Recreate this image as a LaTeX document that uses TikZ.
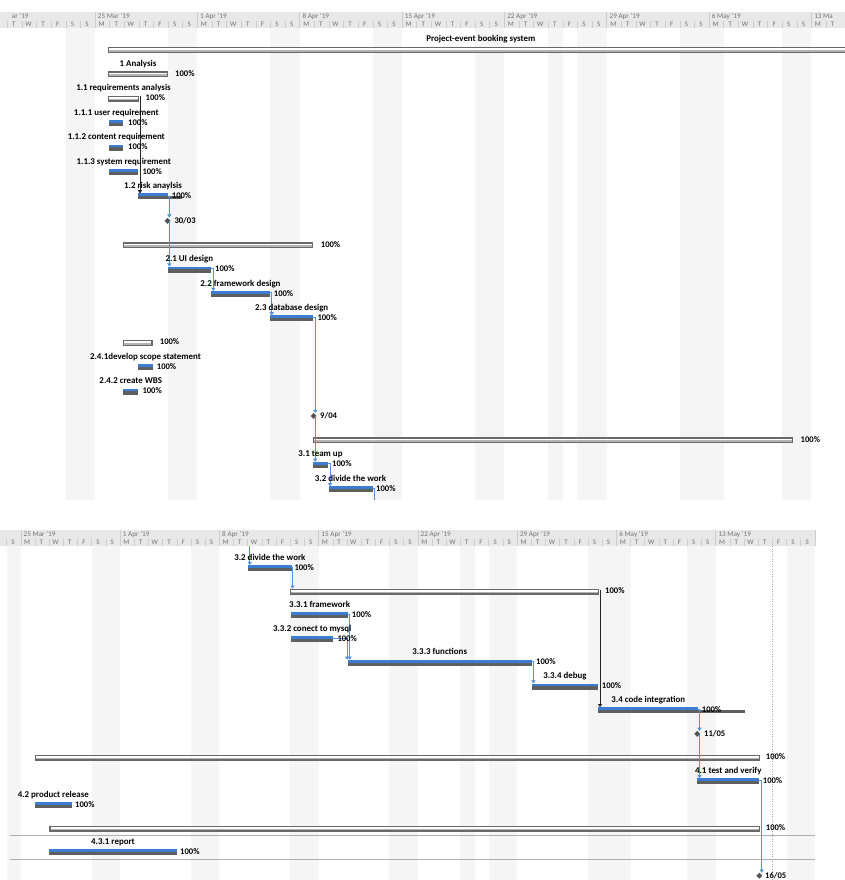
\documentclass[tikz,border=0pt]{standalone}
\usepackage{fontspec}
\setmainfont{Carlito}
\usetikzlibrary{arrows.meta}
\definecolor{hdrbg}{RGB}{232,232,232}
\definecolor{hdrtxt}{RGB}{115,115,115}
\definecolor{hdrsep}{RGB}{205,205,205}
\definecolor{wkend}{RGB}{245,245,245}
\definecolor{barblue}{RGB}{60,125,210}
\definecolor{bargray}{RGB}{95,95,95}
\definecolor{sumdark}{RGB}{105,105,105}
\definecolor{sumlight}{RGB}{180,180,180}
\definecolor{linkblue}{RGB}{85,145,220}
\definecolor{msgray}{RGB}{85,85,85}
\definecolor{rowline}{RGB}{175,175,175}
\newcommand{\taskbar}[3]{%
  \fill[barblue] ({#1},{#3}) rectangle ({#2},{#3+2.8});
  \fill[bargray] ({#1},{#3+2.8}) rectangle ({#2},{#3+6});}
\newcommand{\taskbarx}[4]{%
  \fill[barblue] ({#1},{#4}) rectangle ({#2},{#4+2.8});
  \fill[bargray] ({#1},{#4+2.8}) rectangle ({#3},{#4+6});}
\newcommand{\sumbar}[3]{%
  \fill[sumdark] ({#1},{#3}) rectangle ({#2},{#3+6});
  \fill[sumlight] ({#1+1.3},{#3+1.3}) rectangle ({#2-1.3},{#3+4.7});
  \fill[white] ({#1+1.3},{#3+1.3}) rectangle ({#2-1.3},{#3+2.9});}
\newcommand{\gmile}[3]{%
  \fill[msgray] ({#2-3},{#3}) -- ({#2},{#3-3}) -- ({#2+3},{#3}) -- ({#2},{#3+3}) -- cycle;
  \coordinate (#1) at ({#2},{#3});}
\tikzset{
 lbl/.style={font=\fontsize{8.9}{10}\selectfont\bfseries, inner sep=0pt, anchor=base, text=black},
 pct/.style={font=\fontsize{8.6}{10}\selectfont\bfseries, inner sep=0pt, anchor=base west, text=black},
 wklbl/.style={font=\fontsize{7.2}{8}\selectfont, inner sep=0pt, anchor=base west, text=hdrtxt},
 daylbl/.style={font=\fontsize{7}{8}\selectfont, inner sep=0pt, anchor=base, text=hdrtxt},
 lnk/.style={draw=linkblue, line width=0.8pt, -{Triangle[width=4.2pt,length=3.2pt]}},
 lnkplain/.style={draw=linkblue, line width=0.8pt},
 blk/.style={draw=black!85, line width=0.8pt, -{Triangle[width=4.2pt,length=3.2pt]}},
 sep/.style={draw=hdrsep, line width=0.5pt},
}
\begin{document}
\begin{tikzpicture}[x=1pt,y=-1pt]
\useasboundingbox (0,0) rectangle (845,880);
\clip (0,0) rectangle (845,880);
\fill[white] (0,0) rectangle (845,880);
% ===================== TOP CHART =====================
\foreach \d in {-2,-1,5,6,12,13,19,20,26,27,31,33,34,40,41,42,47,48}
  \fill[wkend] ({95+14.62*\d},28.3) rectangle ({95+14.62*(\d+1)},500);
\fill[hdrbg] (0,11.7) rectangle (845,28.3);
\foreach \d in {-6,...,50} {
  \pgfmathsetmacro\dxa{95+14.62*\d}
  \pgfmathtruncatemacro\dwk{mod(\d+70,7)}
  \draw[sep] (\dxa,21) -- (\dxa,28.3);
  \node[daylbl] (td\d) at (\dxa+6.6,26.6) {\ifcase\dwk M\or T\or W\or T\or F\or S\or S\fi};
}
\node[wklbl] (tw0) at (11.7,18.3) {ar '19};
\foreach \w/\t in {0/25 Mar '19,1/1 Apr '19,2/8 Apr '19,3/15 Apr '19,4/22 Apr '19,5/29 Apr '19,6/6 May '19,7/13 Ma} {
  \pgfmathsetmacro\dxa{95+102.34*\w}
  \draw[sep] (\dxa,11.7) -- (\dxa,28.3);
  \node[wklbl] (tw\w x) at (\dxa+2.7,18.3) {\t};
}
% bars
\sumbar{108}{860}{47}
\sumbar{108}{168}{71.4}
\sumbar{108}{139}{95.8}
\taskbar{109.3}{123.3}{120.2}
\taskbar{109.3}{123.3}{144.6}
\taskbar{109.3}{138.3}{169}
\taskbarx{138.3}{168}{181.7}{193.4}
\sumbar{122.7}{313.3}{242.2}
\taskbar{167.7}{211}{266.6}
\taskbar{211}{270}{291}
\taskbar{270}{313.3}{315.4}
\sumbar{122.7}{152.7}{339.8}
\taskbar{138.3}{152.7}{364.2}
\taskbar{123.3}{138.3}{388.6}
\sumbar{313}{793.3}{437.4}
\taskbar{313.4}{327.7}{461.8}
\taskbar{328.5}{372.6}{486.2}
\gmile{m1}{167.5}{220.8}
\gmile{m2}{313.7}{416}
% links top
\coordinate (a11) at (140,96.5);
\coordinate (a12) at (140,193.4);
\draw[blk] (a11) -- (a12);
\coordinate (a12e) at (168,196.2);
\coordinate (m1t) at (169.3,217.6);
\draw[lnk] (a12e) -- (a12e -| m1t) -- (m1t);
\coordinate (m1c) at (169.3,220.8);
\coordinate (a21s) at (169.3,266.6);
\draw[lnk] (m1c) -- (a21s);
\coordinate (a21e) at (211,268.4);
\coordinate (a22s) at (213.3,291);
\draw[lnk] (a21e) -- (a21e -| a22s) -- (a22s);
\coordinate (a22e) at (270,292.8);
\coordinate (a23s) at (271.7,315.4);
\draw[lnk] (a22e) -- (a22e -| a23s) -- (a23s);
\coordinate (a23e) at (313.3,317.2);
\coordinate (m2t) at (315.2,413);
\draw[lnk] (a23e) -- (a23e -| m2t) -- (m2t);
\coordinate (m2c) at (315.2,416);
\coordinate (a31s) at (315.2,461.8);
\draw[lnk] (m2c) -- (a31s);
\coordinate (a31e) at (327.7,463.6);
\coordinate (a32s) at (330,486.2);
\draw[lnk] (a31e) -- (a31e -| a32s) -- (a32s);
\coordinate (a32e) at (372.6,488);
\coordinate (a32x) at (374,500);
\draw[lnkplain] (a32e) -- (a32e -| a32x) -- (a32x);
% labels top
\node[lbl] (tP) at (480.8,42) {Project-event booking system};
\node[lbl] (t1) at (138,66.4) {1 Analysis};
\node[pct] (p1) at (175,76.4) {100\%};
\node[lbl] (t11) at (123.5,90.8) {1.1 requirements analysis};
\node[pct] (p11) at (145.5,100.8) {100\%};
\node[lbl] (t111) at (116.3,115.2) {1.1.1 user requirement};
\node[pct] (p111) at (128,125.2) {100\%};
\node[lbl] (t112) at (116.3,139.6) {1.1.2 content requirement};
\node[pct] (p112) at (128,149.6) {100\%};
\node[lbl] (t113) at (123.8,164) {1.1.3 system requirement};
\node[pct] (p113) at (142.3,174) {100\%};
\node[lbl] (t12) at (153,188.4) {1.2 risk anaylsis};
\node[pct] (p12) at (171.7,198.4) {100\%};
\node[pct] (pm1) at (174.3,223.5) {30/03};
\node[pct] (p2) at (320.7,247.2) {100\%};
\node[lbl] (t21) at (189.3,261.6) {2.1 UI design};
\node[pct] (p21) at (215,271.6) {100\%};
\node[lbl] (t22) at (240.5,286) {2.2 framework design};
\node[pct] (p22) at (273.7,296) {100\%};
\node[lbl] (t23) at (291.7,310.4) {2.3 database design};
\node[pct] (p23) at (317.3,320.4) {100\%};
\node[pct] (p24) at (159.7,344.8) {100\%};
\node[lbl] (t241) at (145.5,359.2) {2.4.1develop scope statement};
\node[pct] (p241) at (156.7,369.2) {100\%};
\node[lbl] (t242) at (130.8,383.6) {2.4.2 create WBS};
\node[pct] (p242) at (142.3,393.6) {100\%};
\node[pct] (pm2) at (320,418.8) {9/04};
\node[pct] (p3) at (800.5,442.4) {100\%};
\node[lbl] (t31) at (320.5,456.8) {3.1 team up};
\node[pct] (p31) at (332,466.8) {100\%};
\node[lbl] (t32) at (350.5,481.2) {3.2 divide the work};
\node[pct] (p32) at (376,491.2) {100\%};
% ===================== BOTTOM CHART =====================
\foreach \d in {-1,5,6,12,13,19,20,26,27,31,33,34,40,41,42,47,48,54,55}
  \fill[wkend] ({20.8+14.18*\d},546) rectangle ({20.8+14.18*(\d+1)},880);
\fill[hdrbg] (0,529.5) rectangle (815,546);
\foreach \d in {-1,...,55} {
  \pgfmathsetmacro\dxa{20.8+14.18*\d}
  \pgfmathtruncatemacro\dwk{mod(\d+70,7)}
  \draw[sep] (\dxa,538.5) -- (\dxa,546);
  \node[daylbl] (bd\d) at (\dxa+6.4,544.3) {\ifcase\dwk M\or T\or W\or T\or F\or S\or S\fi};
}
\foreach \w/\t in {0/25 Mar '19,1/1 Apr '19,2/8 Apr '19,3/15 Apr '19,4/22 Apr '19,5/29 Apr '19,6/6 May '19,7/13 May '19} {
  \pgfmathsetmacro\dxa{20.8+99.26*\w}
  \draw[sep] (\dxa,529.5) -- (\dxa,546);
  \node[wklbl] (bw\w) at (\dxa+2.7,536.1) {\t};
}
\draw[sep] (815,529.5) -- (815,546);
\draw[rowline, line width=0.6pt] (10,835.6) -- (815,835.6);
\draw[rowline, line width=0.6pt] (10,859.3) -- (815,859.3);
\draw[hdrsep!80!black, dotted, line width=0.5pt] (772.5,546) -- (772.5,880);
% bars
\taskbar{248.3}{291.5}{565}
\sumbar{290}{599.3}{588.7}
\taskbar{291}{348.3}{612.4}
\taskbar{291}{333.3}{636.1}
\taskbar{347.7}{531.7}{659.8}
\taskbar{532.3}{597.7}{683.5}
\taskbarx{598.3}{698.3}{745}{707.2}
\gmile{m3}{697.3}{733.9}
\sumbar{35}{760}{754.6}
\taskbar{697.3}{759.3}{778.3}
\taskbar{35}{71.7}{802}
\sumbar{49.3}{760}{825.7}
\taskbar{49.3}{176.7}{849.4}
\gmile{m4}{759.3}{875.7}
% links bottom
\coordinate (b0) at (249.8,546);
\coordinate (b32s) at (249.8,565);
\draw[lnk] (b0) -- (b32s);
\coordinate (b32e) at (291.5,567.8);
\coordinate (b33s) at (292.5,588.7);
\draw[lnk] (b32e) -- (b32e -| b33s) -- (b33s);
\coordinate (b33e) at (600,590);
\coordinate (b34s) at (600,707.2);
\draw[blk] (b33e) -- (b34s);
\coordinate (b331e) at (348.3,614.2);
\coordinate (b333a) at (349.7,659.8);
\draw[lnk] (b331e) -- (b331e -| b333a) -- (b333a);
\coordinate (b332e) at (333.3,637.9);
\coordinate (b333b) at (347.1,659.8);
\draw[lnk] (b332e) -- (b332e -| b333b) -- (b333b);
\coordinate (b333e) at (531.7,661.6);
\coordinate (b334s) at (533.5,683.5);
\draw[lnk] (b333e) -- (b333e -| b334s) -- (b334s);
\coordinate (b34e) at (698.3,709);
\coordinate (m3t) at (699.5,730.9);
\draw[lnk] (b34e) -- (b34e -| m3t) -- (m3t);
\coordinate (m3c) at (699.5,733.9);
\coordinate (b41s) at (699.5,778.3);
\draw[lnk] (m3c) -- (b41s);
\coordinate (b41e) at (759.3,780.1);
\coordinate (m4t) at (761.7,872.7);
\draw[lnk] (b41e) -- (b41e -| m4t) -- (m4t);
% labels bottom
\node[lbl] (s32) at (269.9,560) {3.2 divide the work};
\node[pct] (q32) at (294.3,570) {100\%};
\node[pct] (q33) at (605,593.7) {100\%};
\node[lbl] (s331) at (319.7,607.4) {3.3.1 framework};
\node[pct] (q331) at (351.7,617.4) {100\%};
\node[lbl] (s332) at (312.2,631.1) {3.3.2 conect to mysql};
\node[pct] (q332) at (337.3,641.1) {100\%};
\node[lbl] (s333) at (439.7,654.8) {3.3.3 functions};
\node[pct] (q333) at (536,664.8) {100\%};
\node[lbl] (s334) at (565,678.5) {3.3.4 debug};
\node[pct] (q334) at (601.7,688.5) {100\%};
\node[lbl] (s34) at (648.3,702.2) {3.4 code integration};
\node[pct] (q34) at (701.7,712.2) {100\%};
\node[pct] (qm3) at (704,736.5) {11/05};
\node[pct] (q4) at (765.7,759.6) {100\%};
\node[lbl] (s41) at (728.3,773.3) {4.1 test and verify};
\node[pct] (q41) at (762.7,783.3) {100\%};
\node[lbl] (s42) at (53.3,797) {4.2 product release};
\node[pct] (q42) at (75,807) {100\%};
\node[pct] (q43) at (765.7,830.7) {100\%};
\node[lbl] (s431) at (113,844.4) {4.3.1 report};
\node[pct] (q431) at (180,854.4) {100\%};
\node[pct] (qm4) at (765,878.2) {16/05};
\end{tikzpicture}
\end{document}
